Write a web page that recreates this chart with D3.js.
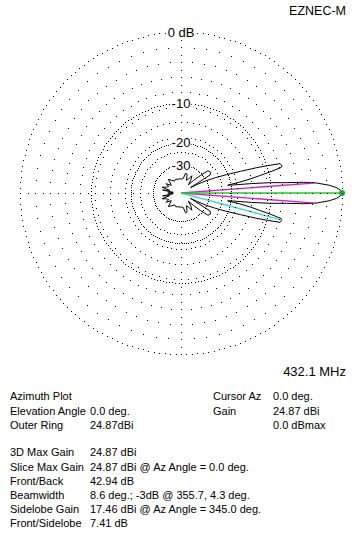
<!DOCTYPE html>
<html>
<head>
<meta charset="utf-8">
<script src="https://cdn.jsdelivr.net/npm/d3@7/dist/d3.min.js"></script>
<style>
  body { margin: 0; background: #fff; }
  svg { display: block; }
  text { font-family: "Liberation Sans", Arial, sans-serif; fill: #000; }
</style>
</head>
<body>
<div id="chart"></div>
<script>
// azimuth pattern, dB relative to outer ring (0 = 24.87 dBi)
const patternAz = [0, 1, 2, 3, 4.3, 5, 5.6, 6.6, 7.6, 8.7, 9.5, 10.5, 11.5, 12.4, 13.4, 14.3, 15, 16.5, 17.5, 18.5,
  20, 22, 24, 26, 28, 29.5, 31.8, 35, 39.5, 42, 45, 48, 53, 58, 62, 67, 72, 77, 81, 88, 95, 102, 110, 118,
  126, 133, 137, 142, 148, 152, 158, 163, 167, 171, 175, 180,
  185, 189, 193, 197, 202, 208, 212, 218, 223, 227, 234, 242, 250, 258, 265, 272, 279, 283, 288, 293, 298, 302,
  307, 312, 315, 318, 320.5, 325, 328.2, 330.5, 332, 334, 336, 338, 340, 341.5, 342.5,
  343.5, 345, 345.7, 346.6, 347.6, 348.5, 349.5, 350.5, 351.3, 352.4, 353.4, 354.4, 355, 355.7, 357, 358, 359];
const patternDb = [0, -0.15, -0.6, -1.4, -3, -4.6, -7.2, -10, -14, -19, -21, -17, -14, -12, -9.5, -7.6, -7.41, -7.6, -9.8, -12,
  -16, -20.5, -25, -30, -38, -46, -26.6, -25.6, -26.2, -31, -38, -46, -39, -35.5, -40, -42, -36, -35.5, -41, -42, -41.5, -42, -41, -42.5,
  -40, -37, -41, -44, -38, -42, -40, -36, -45, -37, -52, -42.94,
  -52, -37, -45, -36, -40, -42, -38, -44, -41, -37, -40, -42.5, -41, -42, -41.5, -42, -41, -35.5, -36, -42, -40, -35.5,
  -39, -46, -38, -31, -26.2, -25.6, -26.6, -46, -38, -30, -25, -20.5, -16, -12, -9.8,
  -7.6, -7.41, -7.6, -9.5, -12, -14, -17, -21, -19, -14, -10, -7.2, -4.6, -3, -1.4, -0.6, -0.15];

const ringDb = [0, -10, -20, -30];
const ringLabels = ["0 dB", "-10", "-20", "-30"];
const beamAz = [4.3, 355.7];      // -3 dB points
const beamDb = [-3, -3];
const sidelobeAz = 345.0, sidelobeDb = -7.41;
const cursorAz = 0.0, cursorDb = 0;

const infoLeft = [
  ["Azimuth Plot", ""],
  ["Elevation Angle", "0.0 deg."],
  ["Outer Ring", "24.87dBi"]
];
const infoRight = [
  ["Cursor Az", "0.0 deg."],
  ["Gain", "24.87 dBi"],
  ["", "0.0 dBmax"]
];
const infoStats = [
  ["3D Max Gain", "24.87 dBi"],
  ["Slice Max Gain", "24.87 dBi @ Az Angle = 0.0 deg."],
  ["Front/Back", "42.94 dB"],
  ["Beamwidth", "8.6 deg.; -3dB @ 355.7, 4.3 deg."],
  ["Sidelobe Gain", "17.46 dBi @ Az Angle = 345.0 deg."],
  ["Front/Sidelobe", "7.41 dB"]
];

const W = 362, H = 538;
const cx = 181, cy = 193, R = 161;

const svg = d3.select("#chart").append("svg")
  .attr("width", W).attr("height", H)
  .attr("viewBox", `0 0 ${W} ${H}`);

// ARRL log scale: 0.89 per 2 dB
const rScale = d3.scaleLog()
  .domain([R * Math.pow(0.89, 15), R])
  .range([-30, 0]);
const rad = db => rScale.invert(db);
const angScale = d3.scaleLinear().domain([0, 360]).range([Math.PI / 2, Math.PI / 2 - 2 * Math.PI]);

const plot = svg.append("g").attr("transform", `translate(${cx},${cy})`);
const pt = (az, db) => {
  const a = angScale(az), r = rad(db);
  return [r * Math.sin(a), -r * Math.cos(a)];
};

// grid: dotted rings and spokes drawn as single pixels
const gridDots = [];
const ringGap = [5.5, 3.2, 2.3, 2];
ringDb.forEach((db, i) => {
  const r = rad(db);
  const n = Math.round(2 * Math.PI * r / ringGap[i]);
  d3.range(n).forEach(k => {
    const t = k / n * 2 * Math.PI;
    gridDots.push([Math.round(cx + r * Math.cos(t)), Math.round(cy - r * Math.sin(t))]);
  });
});
d3.range(0, 360, 5).forEach(az => {
  const step = az % 90 === 0 ? 7.5 : 15;
  const t = az * Math.PI / 180;
  for (let r = R - step; r > rad(-30) + 3; r -= step) {
    gridDots.push([Math.round(cx + r * Math.cos(t)), Math.round(cy - r * Math.sin(t))]);
  }
});
svg.append("g").attr("class", "grid")
  .selectAll("rect").data(gridDots).join("rect")
  .attr("x", d => d[0]).attr("y", d => d[1])
  .attr("width", 1).attr("height", 1)
  .attr("fill", "#000");

// ring labels with white background
const lab = svg.append("g").attr("class", "ring-labels")
  .selectAll("g").data(ringDb).join("g")
  .attr("transform", d => `translate(${cx},${cy - rad(d)})`);
lab.append("text")
  .attr("text-anchor", "middle")
  .attr("dy", "0.36em")
  .attr("font-size", 13)
  .text((d, i) => ringLabels[i]);
lab.each(function () {
  const g = d3.select(this);
  const b = g.select("text").node().getBBox();
  g.insert("rect", "text")
    .attr("x", b.x - 1).attr("y", b.y + 1)
    .attr("width", b.width + 2).attr("height", b.height - 2)
    .attr("fill", "#fff");
});

// pattern
const pattern = patternAz.map((az, i) => ({ az, db: patternDb[i] }));
const line = d3.lineRadial()
  .angle(d => angScale(d.az))
  .radius(d => rad(d.db))
  .curve(d3.curveLinearClosed);
plot.append("path")
  .datum(pattern)
  .attr("d", line)
  .attr("fill", "none")
  .attr("stroke", "#000")
  .attr("stroke-width", 1);

// beamwidth lines
plot.selectAll(".beam").data(beamAz).join("line")
  .attr("class", "beam")
  .attr("x1", 0).attr("y1", 0)
  .attr("x2", (d, i) => pt(d, beamDb[i])[0])
  .attr("y2", (d, i) => pt(d, beamDb[i])[1])
  .attr("stroke", "#cc22cc").attr("stroke-width", 1.3);

// sidelobe line
plot.append("line")
  .attr("x1", 0).attr("y1", 0)
  .attr("x2", pt(sidelobeAz, sidelobeDb)[0])
  .attr("y2", pt(sidelobeAz, sidelobeDb)[1])
  .attr("stroke", "#44d4d4").attr("stroke-width", 1.4);

// cursor line
plot.append("line")
  .attr("x1", 0).attr("y1", 0)
  .attr("x2", pt(cursorAz, cursorDb)[0])
  .attr("y2", pt(cursorAz, cursorDb)[1])
  .attr("stroke", "#22cc22").attr("stroke-width", 1.4);
plot.append("circle")
  .attr("cx", pt(cursorAz, cursorDb)[0])
  .attr("cy", pt(cursorAz, cursorDb)[1])
  .attr("r", 3)
  .attr("fill", "#22aa33");

// header texts
svg.append("text").attr("x", 346).attr("y", 15)
  .attr("text-anchor", "end").attr("font-size", 12.5).text("EZNEC-M");
svg.append("text").attr("x", 346).attr("y", 376)
  .attr("text-anchor", "end").attr("font-size", 13).text("432.1 MHz");

// info table
const info = svg.append("g").attr("font-size", 11);
const rowY = [400, 414.5, 428.5];
const statY = [456, 470.5, 484.5, 498.5, 512.5, 527];
infoLeft.forEach((r, i) => {
  info.append("text").attr("x", 10).attr("y", rowY[i]).text(r[0]);
  info.append("text").attr("x", 90).attr("y", rowY[i]).text(r[1]);
});
infoRight.forEach((r, i) => {
  info.append("text").attr("x", 213).attr("y", rowY[i]).text(r[0]);
  info.append("text").attr("x", 273).attr("y", rowY[i]).text(r[1]);
});
infoStats.forEach((r, i) => {
  info.append("text").attr("x", 10).attr("y", statY[i]).text(r[0]);
  info.append("text").attr("x", 90).attr("y", statY[i]).text(r[1]);
});
</script>
</body>
</html>
